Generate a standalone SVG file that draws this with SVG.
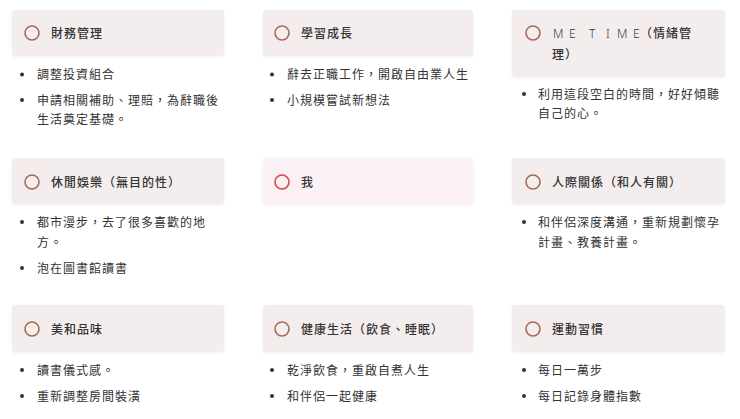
<svg xmlns="http://www.w3.org/2000/svg" width="740" height="419" viewBox="0 0 740 419">
<style>
.card{fill:#f3eeed;}
.card-me{fill:#fbf0f3;}
.ring{fill:none;stroke:#a86a52;stroke-width:1.6;}
.ring-me{fill:none;stroke:#d9454a;stroke-width:1.6;}
.t{font-family:"Noto Sans CJK TC","Noto Sans CJK SC",sans-serif;font-size:12px;letter-spacing:1px;fill:#333;}
.title{font-weight:500;}
.latin{font-family:"Noto Sans","Noto Sans CJK TC",sans-serif;font-weight:300;letter-spacing:0;}
.dot{fill:#333;}
</style>
<defs>
<filter id="sh" x="-5%" y="-10%" width="110%" height="130%">
<feDropShadow dx="0" dy="1" stdDeviation="1.5" flood-color="#000" flood-opacity="0.06"/>
</filter>
</defs>
<rect width="740" height="419" fill="#fff"/>

<g id="finance">
<rect class="card" x="12" y="10" width="212" height="46" rx="3" filter="url(#sh)"/>
<circle class="ring" cx="32" cy="33" r="7"/>
<text class="t title" x="51" y="38">財務管理</text>
<circle class="dot" cx="22" cy="74.5" r="2"/>
<text class="t" x="37" y="79">調整投資組合</text>
<circle class="dot" cx="22" cy="100" r="2"/>
<text class="t" x="37" y="104.5">申請相關補助、理賠，為辭職後</text>
<text class="t" x="37" y="123.5">生活奠定基礎。</text>
</g>

<g id="learning">
<rect class="card" x="263" y="10" width="210" height="46" rx="3" filter="url(#sh)"/>
<circle class="ring" cx="282" cy="33" r="7"/>
<text class="t title" x="301" y="38">學習成長</text>
<circle class="dot" cx="272" cy="74.5" r="2"/>
<text class="t" x="287" y="79">辭去正職工作，開啟自由業人生</text>
<circle class="dot" cx="272" cy="100" r="2"/>
<text class="t" x="287" y="104.5">小規模嘗試新想法</text>
</g>

<g id="metime">
<rect class="card" x="512" y="10" width="213" height="67" rx="3" filter="url(#sh)"/>
<circle class="ring" cx="533" cy="33" r="7"/>
<text class="t title latin" y="38"><tspan x="553">M</tspan><tspan x="569">E</tspan><tspan x="589">T</tspan><tspan x="606">I</tspan><tspan x="617">M</tspan><tspan x="633">E</tspan></text>
<text class="t title" x="640" y="38">（情緒管</text>
<text class="t title" x="552" y="59">理）</text>
<circle class="dot" cx="524" cy="94" r="2"/>
<text class="t" x="538" y="98.5">利用這段空白的時間，好好傾聽</text>
<text class="t" x="538" y="118">自己的心。</text>
</g>

<g id="leisure">
<rect class="card" x="12" y="158" width="212" height="46" rx="3" filter="url(#sh)"/>
<circle class="ring" cx="32" cy="182" r="7"/>
<text class="t title" x="51" y="186.5">休閒娛樂（無目的性）</text>
<circle class="dot" cx="22" cy="222" r="2"/>
<text class="t" x="37" y="226.5">都市漫步，去了很多喜歡的地</text>
<text class="t" x="37" y="246.5">方。</text>
<circle class="dot" cx="22" cy="268" r="2"/>
<text class="t" x="37" y="272.5">泡在圖書館讀書</text>
</g>

<g id="me">
<rect class="card-me" x="263" y="158" width="210" height="46" rx="3" filter="url(#sh)"/>
<circle class="ring-me" cx="282" cy="182" r="7"/>
<text class="t title" x="301" y="186.5">我</text>
</g>

<g id="relationships">
<rect class="card" x="512" y="158" width="213" height="46" rx="3" filter="url(#sh)"/>
<circle class="ring" cx="533" cy="182" r="7"/>
<text class="t title" x="552" y="186.5">人際關係（和人有關）</text>
<circle class="dot" cx="524" cy="222" r="2"/>
<text class="t" x="538" y="226.5">和伴侶深度溝通，重新規劃懷孕</text>
<text class="t" x="538" y="246.5">計畫、教養計畫。</text>
</g>

<g id="aesthetics">
<rect class="card" x="12" y="305" width="212" height="47" rx="3" filter="url(#sh)"/>
<circle class="ring" cx="32" cy="329" r="7"/>
<text class="t title" x="51" y="333.5">美和品味</text>
<circle class="dot" cx="22" cy="370" r="2"/>
<text class="t" x="37" y="374.5">讀書儀式感。</text>
<circle class="dot" cx="22" cy="396" r="2"/>
<text class="t" x="37" y="400.5">重新調整房間裝潢</text>
</g>

<g id="health">
<rect class="card" x="263" y="305" width="210" height="47" rx="3" filter="url(#sh)"/>
<circle class="ring" cx="282" cy="329" r="7"/>
<text class="t title" x="301" y="333.5">健康生活（飲食、睡眠）</text>
<circle class="dot" cx="272" cy="370" r="2"/>
<text class="t" x="287" y="374.5">乾淨飲食，重啟自煮人生</text>
<circle class="dot" cx="272" cy="396" r="2"/>
<text class="t" x="287" y="400.5">和伴侶一起健康</text>
</g>

<g id="exercise">
<rect class="card" x="512" y="305" width="213" height="47" rx="3" filter="url(#sh)"/>
<circle class="ring" cx="533" cy="329" r="7"/>
<text class="t title" x="552" y="333.5">運動習慣</text>
<circle class="dot" cx="524" cy="370" r="2"/>
<text class="t" x="538" y="374.5">每日一萬步</text>
<circle class="dot" cx="524" cy="396" r="2"/>
<text class="t" x="538" y="400.5">每日記錄身體指數</text>
</g>

<g id="connectors"></g>
</svg>
